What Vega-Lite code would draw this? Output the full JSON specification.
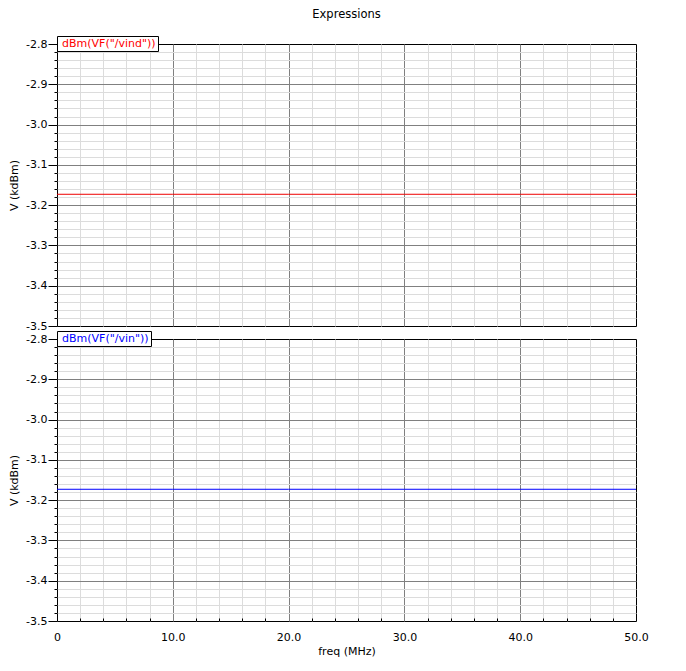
{
  "$schema": "https://vega.github.io/schema/vega-lite/v6.json",
  "title": {"text": "Expressions", "fontSize": 11.5, "fontWeight": "normal", "font": "DejaVu Sans", "color": "black", "offset": 15, "frame": "group", "anchor": "middle"},
  "padding": {"left": 8, "top": 8, "right": 5, "bottom": 5},
  "bounds": "flush",
  "spacing": 13,
  "background": "white",
  "datasets": {
    "vind": [
      {"freq": 0, "value": -3.173, "series": "dBm(VF(\"/vind\"))"},
      {"freq": 10, "value": -3.173, "series": "dBm(VF(\"/vind\"))"},
      {"freq": 20, "value": -3.173, "series": "dBm(VF(\"/vind\"))"},
      {"freq": 30, "value": -3.173, "series": "dBm(VF(\"/vind\"))"},
      {"freq": 40, "value": -3.173, "series": "dBm(VF(\"/vind\"))"},
      {"freq": 50, "value": -3.173, "series": "dBm(VF(\"/vind\"))"}
    ],
    "vin": [
      {"freq": 0, "value": -3.173, "series": "dBm(VF(\"/vin\"))"},
      {"freq": 10, "value": -3.173, "series": "dBm(VF(\"/vin\"))"},
      {"freq": 20, "value": -3.173, "series": "dBm(VF(\"/vin\"))"},
      {"freq": 30, "value": -3.173, "series": "dBm(VF(\"/vin\"))"},
      {"freq": 40, "value": -3.173, "series": "dBm(VF(\"/vin\"))"},
      {"freq": 50, "value": -3.173, "series": "dBm(VF(\"/vin\"))"}
    ]
  },
  "vconcat": [
    {
      "width": 579,
      "height": 282,
      "data": {"name": "vind"},
      "mark": {"type": "line", "strokeWidth": 1, "clip": true},
      "encoding": {
        "x": {
          "field": "freq", "type": "quantitative",
          "scale": {"domain": [0, 50], "nice": false, "zero": false},
          "axis": {
            "values": [0,2,4,6,8,10,12,14,16,18,20,22,24,26,28,30,32,34,36,38,40,42,44,46,48,50],
            "title": null, "labels": false, "ticks": false, "domain": false, "grid": true,
            "gridColor": {"condition": {"test": "datum.value % 10 == 0", "value": "#808080"}, "value": "#dcdcdc"},
            "gridOpacity": {"condition": {"test": "datum.value == 0 || datum.value == 50", "value": 0}, "value": 1}
          }
        },
        "y": {
          "field": "value", "type": "quantitative",
          "scale": {"domain": [-3.5, -2.8], "nice": false, "zero": false},
          "axis": {
            "values": [-3.5,-3.48,-3.46,-3.44,-3.42,-3.4,-3.38,-3.36,-3.34,-3.32,-3.3,-3.28,-3.26,-3.24,-3.22,-3.2,-3.18,-3.16,-3.14,-3.12,-3.1,-3.08,-3.06,-3.04,-3.02,-3.0,-2.98,-2.96,-2.94,-2.92,-2.9,-2.88,-2.86,-2.84,-2.82,-2.8],
            "title": "V (kdBm)", "titlePadding": 6, "domain": false, "grid": true,
            "gridColor": {"condition": {"test": "abs(datum.value*10 - round(datum.value*10)) < 0.001", "value": "#808080"}, "value": "#dcdcdc"},
            "gridOpacity": {"condition": {"test": "abs(datum.value + 3.5) < 0.001 || abs(datum.value + 2.8) < 0.001", "value": 0}, "value": 1},
            "tickSize": {"condition": {"test": "abs(datum.value*10 - round(datum.value*10)) < 0.001", "value": 9}, "value": 3},
            "labelExpr": "abs(datum.value*10 - round(datum.value*10)) < 0.001 ? replace(format(datum.value, '.1f'), '\u2212', '-') : ''",
            "labelPadding": 1
          }
        },
        "color": {
          "field": "series", "type": "nominal",
          "scale": {"range": ["#ee0000"]},
          "legend": {"labelColor": "#ff0000", "symbolType": "circle", "symbolSize": 0, "labelOffset": -8}
        }
      }
    },
    {
      "width": 579,
      "height": 282,
      "data": {"name": "vin"},
      "mark": {"type": "line", "strokeWidth": 1, "clip": true},
      "encoding": {
        "x": {
          "field": "freq", "type": "quantitative",
          "scale": {"domain": [0, 50], "nice": false, "zero": false},
          "axis": {
            "values": [0,2,4,6,8,10,12,14,16,18,20,22,24,26,28,30,32,34,36,38,40,42,44,46,48,50],
            "title": "freq (MHz)", "titlePadding": 3, "domain": false, "grid": true, "labelFlush": false,
            "gridColor": {"condition": {"test": "datum.value % 10 == 0", "value": "#808080"}, "value": "#dcdcdc"},
            "gridOpacity": {"condition": {"test": "datum.value == 0 || datum.value == 50", "value": 0}, "value": 1},
            "tickSize": {"condition": {"test": "datum.value % 10 == 0", "value": 0}, "value": -3},
            "labelExpr": "datum.value % 10 == 0 ? (datum.value == 0 ? '0' : format(datum.value, '.1f')) : ''",
            "labelPadding": 10
          }
        },
        "y": {
          "field": "value", "type": "quantitative",
          "scale": {"domain": [-3.5, -2.8], "nice": false, "zero": false},
          "axis": {
            "values": [-3.5,-3.48,-3.46,-3.44,-3.42,-3.4,-3.38,-3.36,-3.34,-3.32,-3.3,-3.28,-3.26,-3.24,-3.22,-3.2,-3.18,-3.16,-3.14,-3.12,-3.1,-3.08,-3.06,-3.04,-3.02,-3.0,-2.98,-2.96,-2.94,-2.92,-2.9,-2.88,-2.86,-2.84,-2.82,-2.8],
            "title": "V (kdBm)", "titlePadding": 6, "domain": false, "grid": true,
            "gridColor": {"condition": {"test": "abs(datum.value*10 - round(datum.value*10)) < 0.001", "value": "#808080"}, "value": "#dcdcdc"},
            "gridOpacity": {"condition": {"test": "abs(datum.value + 3.5) < 0.001 || abs(datum.value + 2.8) < 0.001", "value": 0}, "value": 1},
            "tickSize": {"condition": {"test": "abs(datum.value*10 - round(datum.value*10)) < 0.001", "value": 9}, "value": 3},
            "labelExpr": "abs(datum.value*10 - round(datum.value*10)) < 0.001 ? replace(format(datum.value, '.1f'), '\u2212', '-') : ''",
            "labelPadding": 1
          }
        },
        "color": {
          "field": "series", "type": "nominal",
          "scale": {"range": ["#0000ff"]},
          "legend": {"labelColor": "#0000ff", "symbolType": "circle", "symbolSize": 0, "labelOffset": -8}
        }
      }
    }
  ],
  "resolve": {"scale": {"color": "independent"}, "legend": {"color": "independent"}},
  "config": {
    "font": "DejaVu Sans",
    "view": {"stroke": "black", "strokeWidth": 1},
    "axis": {
      "labelFont": "DejaVu Sans", "labelFontSize": 11, "labelColor": "black",
      "titleFont": "DejaVu Sans", "titleFontSize": 11, "titleFontWeight": "normal", "titleColor": "black",
      "tickColor": "black", "tickWidth": 1, "gridWidth": 1
    },
    "legend": {
      "orient": "none", "legendX": 0, "legendY": -8, "title": null,
      "strokeColor": "black", "fillColor": "white", "padding": 2, "cornerRadius": 0,
      "symbolSize": 0, "symbolStrokeWidth": 0, "symbolOpacity": 0, "labelOffset": 0,
      "labelFont": "DejaVu Sans", "labelFontSize": 11
    }
  }
}
